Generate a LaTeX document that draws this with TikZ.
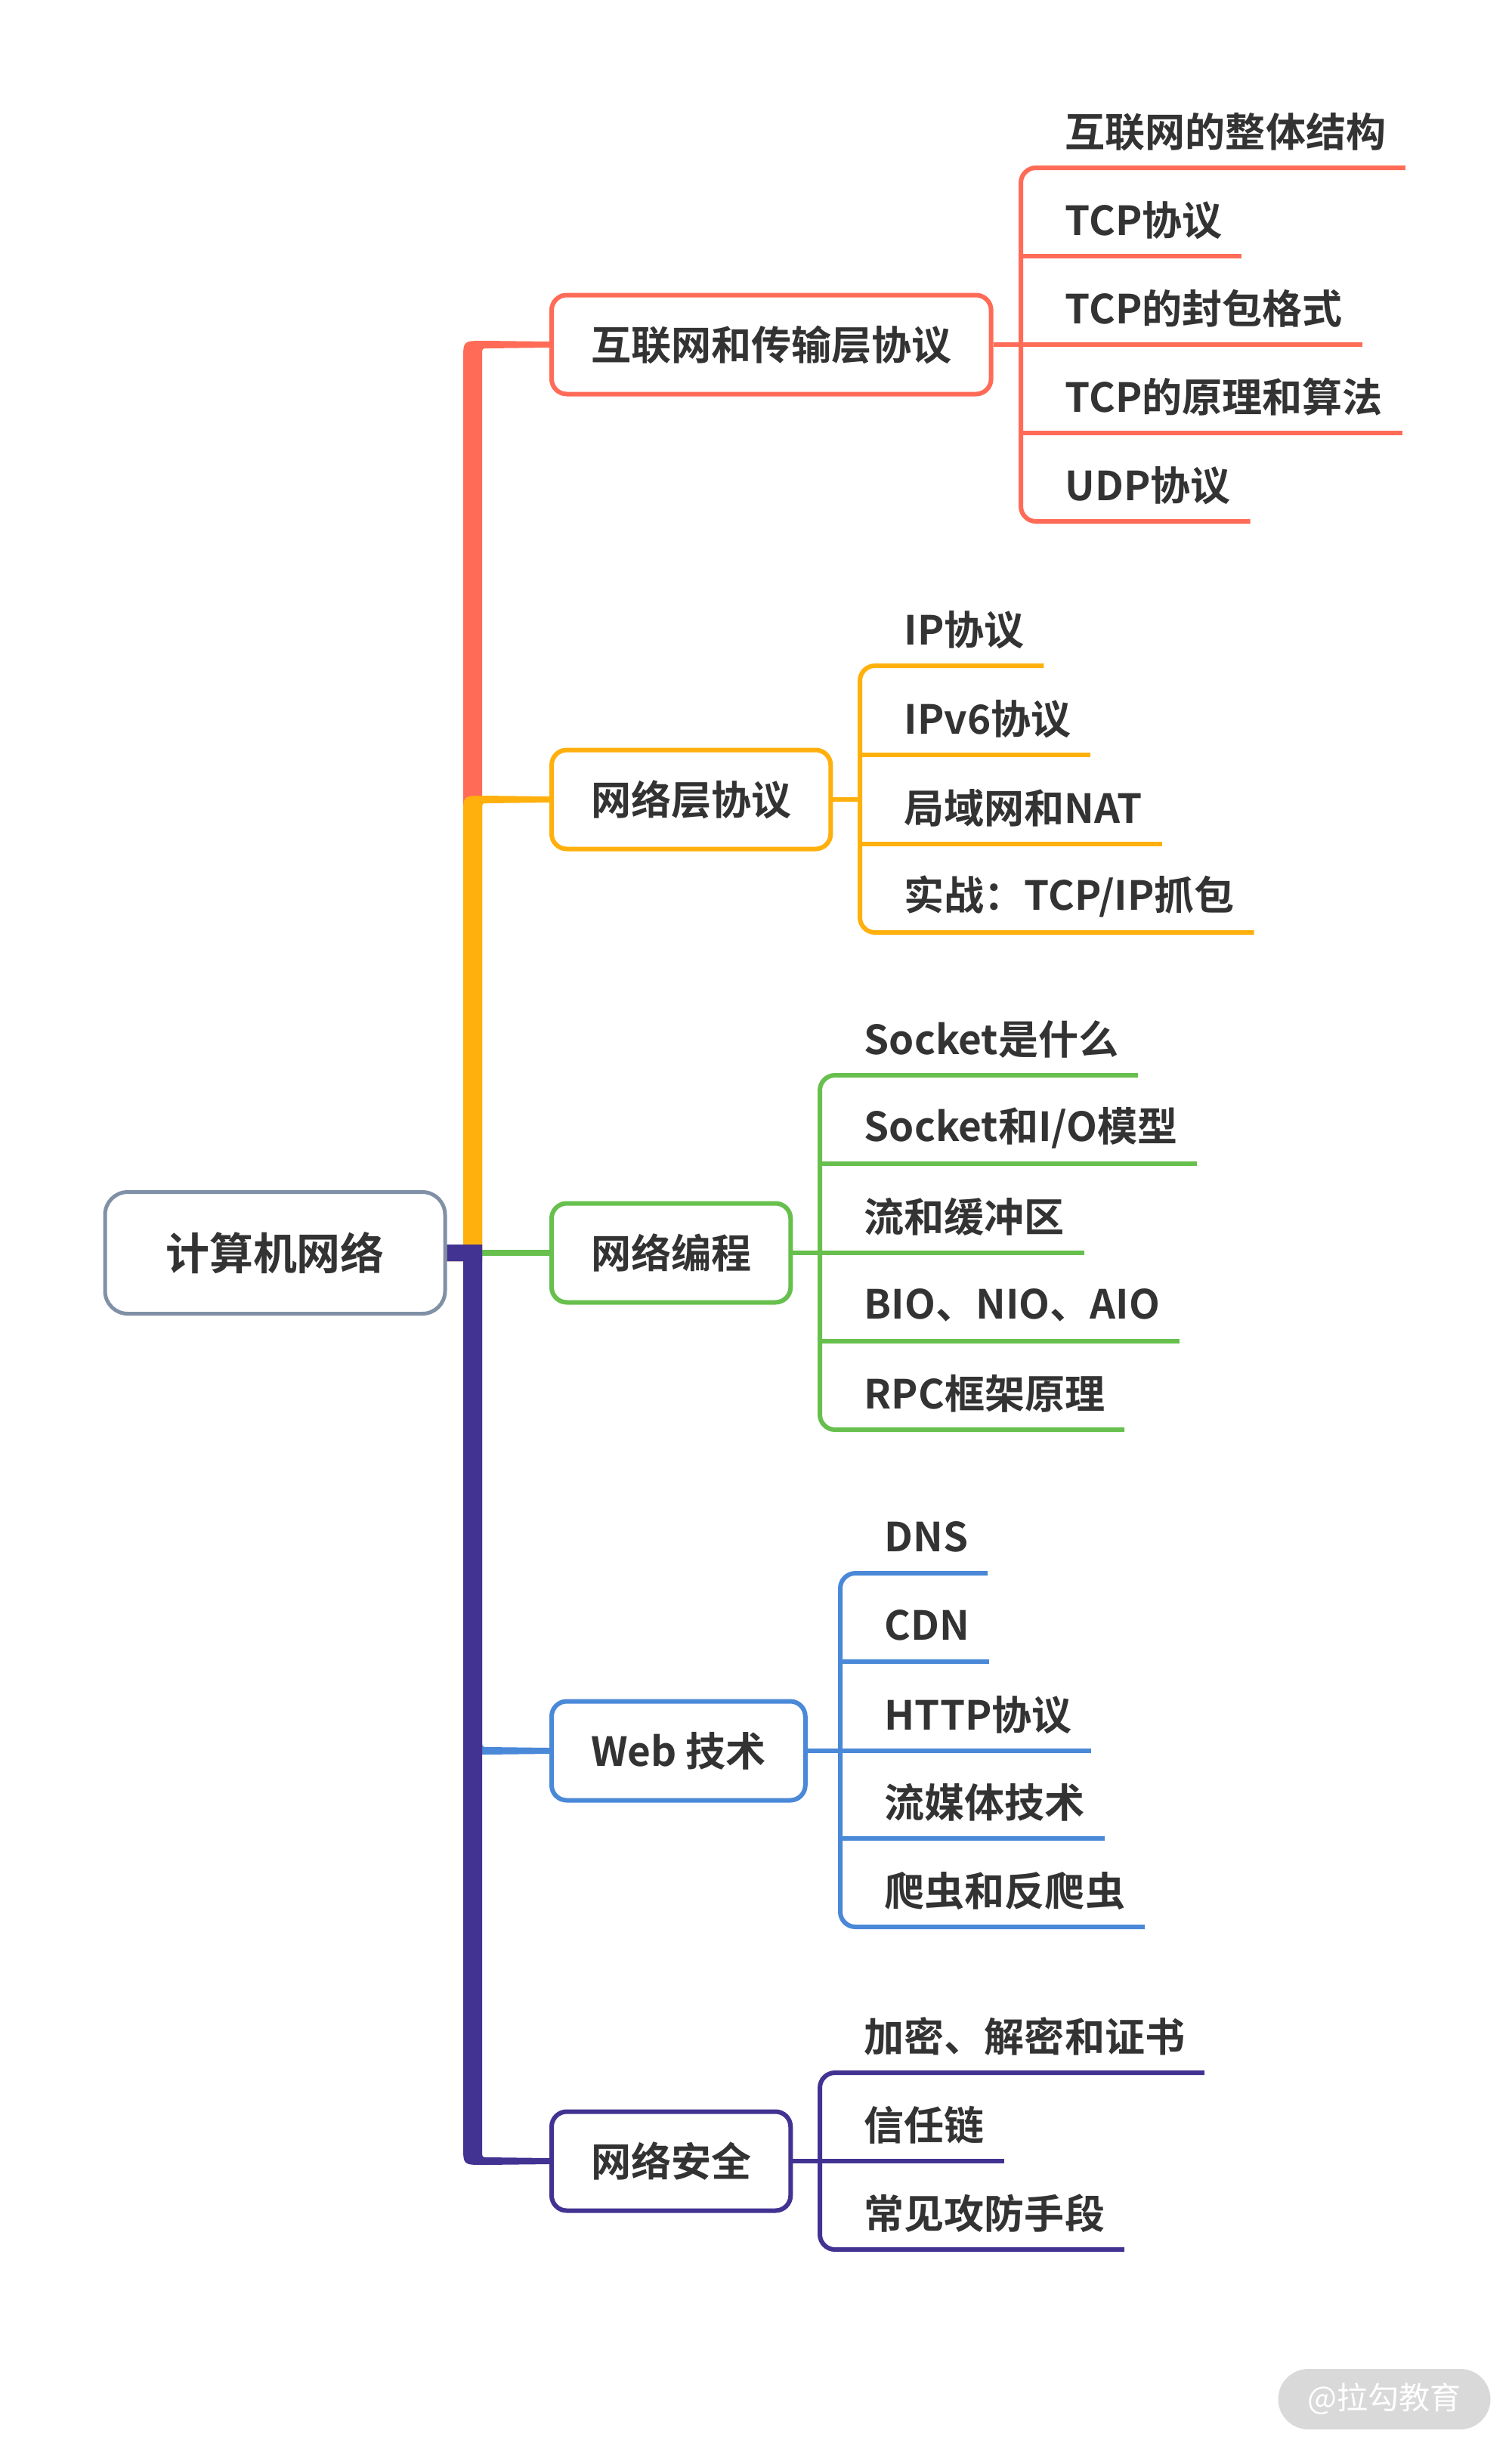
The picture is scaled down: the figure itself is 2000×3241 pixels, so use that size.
\documentclass[tikz,border=0pt]{standalone}
\usepackage{fontspec}
\setmainfont{Noto Sans CJK SC}[BoldFont={Noto Sans CJK SC Bold}]
\usepackage{xcolor}
\usepackage{tikz}
\usetikzlibrary{calc}
\definecolor{txtc}{HTML}{333333}
\definecolor{rootc}{HTML}{8090A6}
\definecolor{redc}{HTML}{FF6B57}
\definecolor{orac}{HTML}{FFB00D}
\definecolor{grnc}{HTML}{67C04D}
\definecolor{bluc}{HTML}{4A88D8}
\definecolor{purc}{HTML}{423392}
\definecolor{wmc}{HTML}{D9D9D9}

% thick branch from the root, going up or down to a topic box
\newcommand{\upbr}[2]{%
  \fill[#1] ($(rt.east)+(0,11)$) -- ($(rt.east)+(0,-11)$) -- ($(trk)+(-12,-11)$)
    -- ($(trk |- #2.west)+(-12,20)$)
    .. controls ($(trk |- #2.west)+(-12,-5)$) .. ($(trk |- #2.west)+(15,-5)$)
    -- ($(#2.west)+(0,-4)$) -- ($(#2.west)+(0,4)$)
    -- ($(trk |- #2.west)+(21,5)$)
    .. controls ($(trk |- #2.west)+(13,5)$) .. ($(trk |- #2.west)+(13,13)$)
    -- ($(trk)+(13,11)$) -- cycle;}
\newcommand{\dnbr}[2]{%
  \fill[#1] ($(rt.east)+(0,-11)$) -- ($(trk)+(13,-11)$)
    -- ($(trk |- #2.west)+(13,-13)$)
    .. controls ($(trk |- #2.west)+(13,-5)$) .. ($(trk |- #2.west)+(21,-5)$)
    -- ($(#2.west)+(0,-4)$) -- ($(#2.west)+(0,4)$)
    -- ($(trk |- #2.west)+(15,5)$)
    .. controls ($(trk |- #2.west)+(-12,5)$) .. ($(trk |- #2.west)+(-12,-20)$)
    -- ($(trk)+(-12,11)$) -- ($(rt.east)+(0,11)$) -- cycle;}

\begin{document}
\begin{tikzpicture}[x=0.1mm, y=-0.1mm,
  root/.style={rectangle, draw=rootc, line width=0.5mm, rounded corners=3mm,
               minimum width=45mm, minimum height=16.1mm, text=txtc,
               font=\fontsize{16.5pt}{20pt}\selectfont\bfseries},
  topic/.style={rectangle, draw=#1, fill=white, line width=0.6mm, rounded corners=2mm,
                anchor=west, inner xsep=5.2mm, minimum height=13.1mm, text=txtc,
                font=\fontsize{15.1pt}{18pt}\selectfont\bfseries},
  leaf/.style={anchor=south west, inner xsep=2.5mm, inner ysep=0pt, minimum height=9.4mm,
               text=txtc, font=\fontsize{15.1pt}{18pt}\selectfont\bfseries},
  ul/.style={draw=#1, line width=0.6mm},
  brk/.style={draw=#1, line width=0.6mm, rounded corners=2mm},
  wm/.style={rectangle, fill=wmc, rounded corners=4mm, minimum width=28.1mm,
             minimum height=8mm, text=white, font=\fontsize{11.7pt}{14pt}\selectfont}]
\useasboundingbox (0,0) rectangle (2000,3241);
% root and main topics
\node[root] (rt) at (364,1658) {计算机网络};
\coordinate (trk) at (625,1658);
\node[topic=redc] (b1) at (727,456) {互联网和传输层协议};
\node[topic=orac] (b2) at (727,1058) {网络层协议};
\node[topic=grnc] (b3) at (727,1658) {网络编程};
\node[topic=bluc] (b4) at (727,2317) {Web 技术};
\node[topic=purc] (b5) at (727,2860) {网络安全};
\upbr{redc}{b1}
\upbr{orac}{b2}
\draw[grnc, line width=0.8mm] (rt.east) -- (b3.west);
\dnbr{bluc}{b4}
\dnbr{purc}{b5}
% subtopics
\coordinate (k1) at (1351,456);
\node[leaf] (r1) at (1384,222) {互联网的整体结构};
\node[leaf] (r2) at (1384,339) {TCP协议};
\node[leaf] (r3) at (1384,456) {TCP的封包格式};
\node[leaf] (r4) at (1384,573) {TCP的原理和算法};
\node[leaf] (r5) at (1384,690) {UDP协议};
\draw[ul=redc] (b1.east) -- (k1);
\draw[brk=redc] (r1.south east) -- (r1.south -| k1) -- (r5.south -| k1) -- (r5.south east);
\draw[ul=redc] (r2.south -| k1) -- (r2.south east);
\draw[ul=redc] (r3.south -| k1) -- (r3.south east);
\draw[ul=redc] (r4.south -| k1) -- (r4.south east);
\coordinate (k2) at (1138,1058);
\node[leaf] (o1) at (1171,881) {IP协议};
\node[leaf] (o2) at (1171,999) {IPv6协议};
\node[leaf] (o3) at (1171,1117) {局域网和NAT};
\node[leaf] (o4) at (1171,1234) {实战：TCP/IP抓包};
\draw[ul=orac] (b2.east) -- (k2);
\draw[brk=orac] (o1.south east) -- (o1.south -| k2) -- (o4.south -| k2) -- (o4.south east);
\draw[ul=orac] (o2.south -| k2) -- (o2.south east);
\draw[ul=orac] (o3.south -| k2) -- (o3.south east);
\coordinate (k3) at (1085,1658);
\node[leaf] (g1) at (1118,1423) {Socket是什么};
\node[leaf] (g2) at (1118,1540) {Socket和I/O模型};
\node[leaf] (g3) at (1118,1658) {流和缓冲区};
\node[leaf] (g4) at (1118,1775) {BIO、NIO、AIO};
\node[leaf] (g5) at (1118,1892) {RPC框架原理};
\draw[ul=grnc] (b3.east) -- (k3);
\draw[brk=grnc] (g1.south east) -- (g1.south -| k3) -- (g5.south -| k3) -- (g5.south east);
\draw[ul=grnc] (g2.south -| k3) -- (g2.south east);
\draw[ul=grnc] (g3.south -| k3) -- (g3.south east);
\draw[ul=grnc] (g4.south -| k3) -- (g4.south east);
\coordinate (k4) at (1112,2317);
\node[leaf] (w1) at (1145,2082) {DNS};
\node[leaf] (w2) at (1145,2199) {CDN};
\node[leaf] (w3) at (1145,2317) {HTTP协议};
\node[leaf] (w4) at (1145,2433) {流媒体技术};
\node[leaf] (w5) at (1145,2550) {爬虫和反爬虫};
\draw[ul=bluc] (b4.east) -- (k4);
\draw[brk=bluc] (w1.south east) -- (w1.south -| k4) -- (w5.south -| k4) -- (w5.south east);
\draw[ul=bluc] (w2.south -| k4) -- (w2.south east);
\draw[ul=bluc] (w3.south -| k4) -- (w3.south east);
\draw[ul=bluc] (w4.south -| k4) -- (w4.south east);
\coordinate (k5) at (1085,2860);
\node[leaf] (s1) at (1118,2743) {加密、解密和证书};
\node[leaf] (s2) at (1118,2860) {信任链};
\node[leaf] (s3) at (1118,2977) {常见攻防手段};
\draw[ul=purc] (b5.east) -- (k5);
\draw[brk=purc] (s1.south east) -- (s1.south -| k5) -- (s3.south -| k5) -- (s3.south east);
\draw[ul=purc] (s2.south -| k5) -- (s2.south east);
\node[wm] (wmk) at (1832,3175) {@拉勾教育};
\end{tikzpicture}
\end{document}
